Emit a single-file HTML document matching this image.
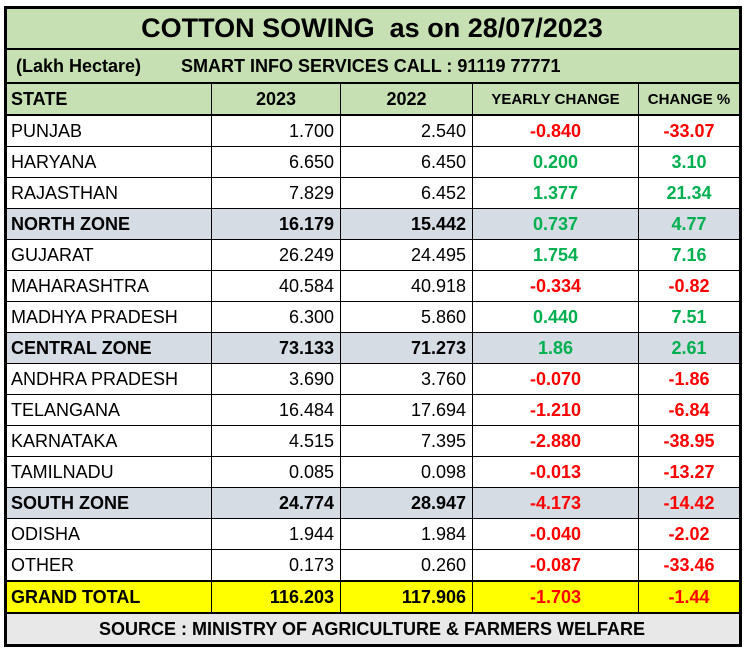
<!DOCTYPE html>
<html><head><style>
body{margin:0;background:#fff;width:744px;height:653px;overflow:hidden;font-family:"Liberation Sans",sans-serif;}
table{position:absolute;left:4px;top:6px;border-collapse:collapse;table-layout:fixed;border:3px solid #000;}
td{border:1px solid #000;padding:0 6px;font-size:18px;height:30px;white-space:nowrap;overflow:hidden;}
td:first-child{padding-left:4px}
.r{text-align:right}.c{text-align:center;font-weight:bold}
.g{color:#00b050}.rd{color:#ff0000}
.z td{background:#d6dce4;font-weight:bold}
.hd td{background:#c6e0b4;font-weight:bold;}
.t{background:#c6e0b4;font-weight:bold;font-size:27px;text-align:center;height:39px;border-bottom:2px solid #000}
.s{background:#c6e0b4;font-weight:bold;font-size:18px;height:32px;border-bottom:2px solid #000}
.gt td{background:#ffff00;font-weight:bold;border-top:2px solid #000}
.src{background:#e8e8e8;font-weight:bold;text-align:center;font-size:18px;height:30px;border-top:2px solid #000}
</style></head><body>
<table>
<colgroup><col style="width:206px"><col style="width:129px"><col style="width:132px"><col style="width:166px"><col style="width:102px"></colgroup>
<tr><td colspan="5" class="t">COTTON SOWING &nbsp;as on 28/07/2023</td></tr>
<tr><td colspan="5" class="s">&nbsp;(Lakh Hectare) &nbsp;&nbsp;&nbsp;&nbsp;&nbsp;&nbsp;&nbsp;SMART INFO SERVICES CALL : 91119 77771</td></tr>
<tr class="hd"><td style="height:30px;border-bottom:2px solid #000">STATE</td><td style="text-align:center;border-bottom:2px solid #000">2023</td><td style="text-align:center;border-bottom:2px solid #000">2022</td><td style="text-align:center;font-size:15px;border-bottom:2px solid #000">YEARLY CHANGE</td><td style="text-align:center;font-size:15px;border-bottom:2px solid #000">CHANGE %</td></tr>
<tr><td>PUNJAB</td><td class="r">1.700</td><td class="r">2.540</td><td class="c rd">-0.840</td><td class="c rd">-33.07</td></tr>
<tr><td>HARYANA</td><td class="r">6.650</td><td class="r">6.450</td><td class="c g">0.200</td><td class="c g">3.10</td></tr>
<tr><td>RAJASTHAN</td><td class="r">7.829</td><td class="r">6.452</td><td class="c g">1.377</td><td class="c g">21.34</td></tr>
<tr class="z"><td>NORTH ZONE</td><td class="r">16.179</td><td class="r">15.442</td><td class="c g">0.737</td><td class="c g">4.77</td></tr>
<tr><td>GUJARAT</td><td class="r">26.249</td><td class="r">24.495</td><td class="c g">1.754</td><td class="c g">7.16</td></tr>
<tr><td>MAHARASHTRA</td><td class="r">40.584</td><td class="r">40.918</td><td class="c rd">-0.334</td><td class="c rd">-0.82</td></tr>
<tr><td>MADHYA PRADESH</td><td class="r">6.300</td><td class="r">5.860</td><td class="c g">0.440</td><td class="c g">7.51</td></tr>
<tr class="z"><td>CENTRAL ZONE</td><td class="r">73.133</td><td class="r">71.273</td><td class="c g">1.86</td><td class="c g">2.61</td></tr>
<tr><td>ANDHRA PRADESH</td><td class="r">3.690</td><td class="r">3.760</td><td class="c rd">-0.070</td><td class="c rd">-1.86</td></tr>
<tr><td>TELANGANA</td><td class="r">16.484</td><td class="r">17.694</td><td class="c rd">-1.210</td><td class="c rd">-6.84</td></tr>
<tr><td>KARNATAKA</td><td class="r">4.515</td><td class="r">7.395</td><td class="c rd">-2.880</td><td class="c rd">-38.95</td></tr>
<tr><td>TAMILNADU</td><td class="r">0.085</td><td class="r">0.098</td><td class="c rd">-0.013</td><td class="c rd">-13.27</td></tr>
<tr class="z"><td>SOUTH ZONE</td><td class="r">24.774</td><td class="r">28.947</td><td class="c rd">-4.173</td><td class="c rd">-14.42</td></tr>
<tr><td>ODISHA</td><td class="r">1.944</td><td class="r">1.984</td><td class="c rd">-0.040</td><td class="c rd">-2.02</td></tr>
<tr><td>OTHER</td><td class="r">0.173</td><td class="r">0.260</td><td class="c rd">-0.087</td><td class="c rd">-33.46</td></tr>
<tr class="gt"><td>GRAND TOTAL</td><td class="r">116.203</td><td class="r">117.906</td><td class="c rd">-1.703</td><td class="c rd">-1.44</td></tr>
<tr><td colspan="5" class="src">SOURCE : MINISTRY OF AGRICULTURE &amp; FARMERS WELFARE</td></tr>
</table>
</body></html>
